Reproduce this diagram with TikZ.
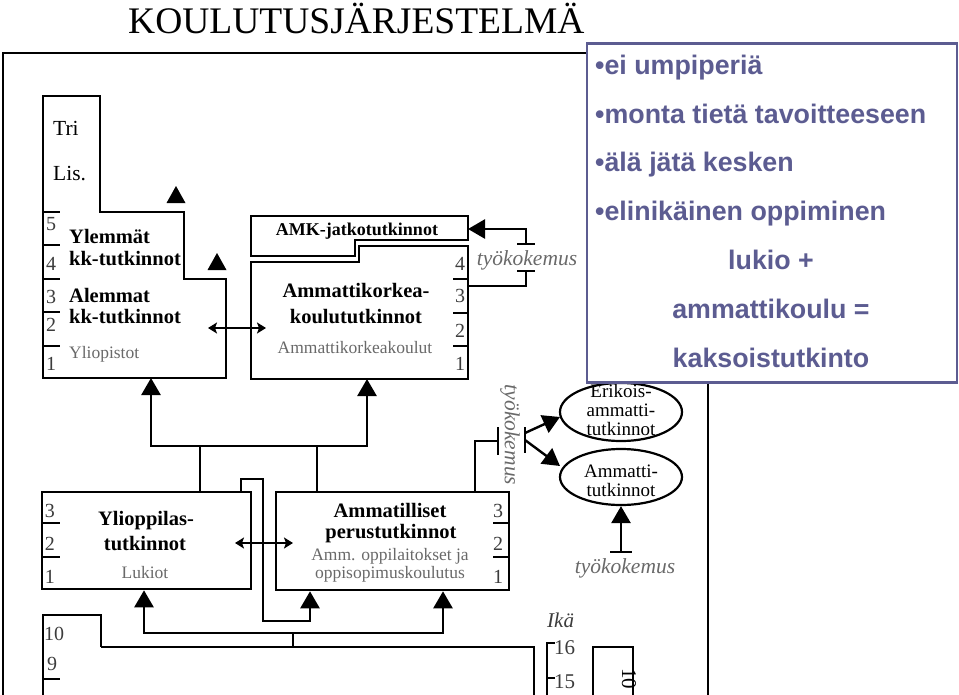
\documentclass[tikz,border=0pt]{standalone}
\usepackage{fontspec}
\setmainfont{Liberation Serif}
\newfontfamily\boxsans{Liberation Sans}
\usetikzlibrary{arrows.meta,shapes.geometric}
\definecolor{frameblue}{RGB}{92,92,145}
\definecolor{gtext}{RGB}{105,105,105}
\definecolor{ntext}{RGB}{60,60,60}
\begin{document}
\begin{tikzpicture}[x=1pt,y=-1pt,
  boxline/.style={line width=2.6pt, line join=miter},
  frameline/.style={line width=2.6pt},
  tickthin/.style={line width=1.4pt},
  tickthick/.style={line width=2.6pt},
  conn/.style={line width=2.6pt},
  triarrow/.style={-{Triangle[length=17pt,width=19pt]}},
  dblarrow/.style={{Stealth[length=9pt,width=11pt,inset=2pt]}-{Stealth[length=9pt,width=11pt,inset=2pt]}, line width=2.2pt},
  bold/.style={font=\fontsize{20.5}{22}\selectfont\bfseries, inner sep=0pt, anchor=base},
  inst/.style={font=\fontsize{17.5}{18}\selectfont, text=gtext, inner sep=0pt, anchor=base},
  num/.style={font=\fontsize{20}{20}\selectfont, text=ntext, inner sep=0pt, anchor=base},
  tyo/.style={font=\fontsize{21.5}{21}\selectfont\itshape, text=gtext, inner sep=0pt, anchor=base},
  ell/.style={font=\fontsize{19}{18}\selectfont, inner sep=0pt, anchor=base},
  bullet/.style={font=\boxsans\bfseries\fontsize{26.8}{27}\selectfont, text=frameblue, inner sep=0pt, anchor=base west},
  cline/.style={font=\boxsans\bfseries\fontsize{26.8}{27}\selectfont, text=frameblue, inner sep=0pt, anchor=base},
]
\useasboundingbox (0,0) rectangle (959,694);
\clip (0,0) rectangle (959,694);

% title
\node[anchor=base west, inner sep=0pt, font=\fontsize{37.5}{40}\selectfont] (title) at (128,33) {KOULUTUSJÄRJESTELMÄ};

% outer frame
\draw[frameline] (3,700) -- (3,53) -- (620,53);
\draw[frameline] (708,370) -- (708,700);

% ---------- university block ----------
\draw[boxline] (43,96) -- (100,96) -- (100,212) -- (184,212) -- (184,279) -- (226,279) -- (226,378) -- (43,378) -- cycle;
\coordinate (uniB) at (151,378);
\coordinate (uniR) at (208,328);
\draw[tickthin] (43,212) -- (60,212);
\draw[tickthick] (43,245) -- (60,245);
\draw[tickthin] (43,279) -- (60,279);
\draw[tickthick] (43,312) -- (60,312);
\draw[tickthin] (43,346) -- (60,346);
\node[num] (u5) at (51,230) {5};
\node[num] (u4) at (51,270) {4};
\node[num] (u3) at (51,303) {3};
\node[num] (u2) at (51,331) {2};
\node[num] (u1) at (51,370) {1};
\node[font=\fontsize{21.5}{20}\selectfont, inner sep=0pt, anchor=base west] (tri) at (53,135) {Tri};
\node[font=\fontsize{21.5}{20}\selectfont, inner sep=0pt, anchor=base west] (lis) at (53,180) {Lis.};
\node[bold, anchor=base west] (ylem1) at (69,243) {Ylemmät};
\node[bold, anchor=base west] (ylem2) at (69,265) {kk-tutkinnot};
\node[bold, anchor=base west] (alem1) at (69,302) {Alemmat};
\node[bold, anchor=base west] (alem2) at (69,323) {kk-tutkinnot};
\node[inst, anchor=base west] (yliop) at (69,358) {Yliopistot};

% free arrowheads
\fill (176,186) -- (185.5,203) -- (166.5,203) -- cycle;
\fill (217,253) -- (226.5,270) -- (207.5,270) -- cycle;

% ---------- AMK ----------
\draw[boxline] (251,216) -- (468,216) -- (468,240) -- (355,240) -- (355,256) -- (251,256) -- cycle;
\draw[boxline] (251,262) -- (359,262) -- (359,246) -- (468,246) -- (468,379) -- (251,379) -- cycle;
\coordinate (jatkoR) at (468,229);
\coordinate (amkR) at (468,286);
\coordinate (amkL) at (266,328);
\coordinate (amkB) at (367,379);
\node[font=\fontsize{18}{18}\selectfont\bfseries, inner sep=0pt, anchor=base] (jatko) at (357,235) {AMK-jatkotutkinnot};
\node[bold] (amk1) at (356,297) {Ammattikorkea-};
\node[bold] (amk2) at (356,323) {koulututkinnot};
\node[inst] (amk3) at (355,353) {Ammattikorkeakoulut};
\draw[tickthin] (453,279) -- (468,279);
\draw[tickthick] (453,313) -- (468,313);
\draw[tickthin] (453,346) -- (468,346);
\node[num] (a4) at (460,270) {4};
\node[num] (a3) at (460,302) {3};
\node[num] (a2) at (460,337) {2};
\node[num] (a1) at (460,370) {1};

% tyokokemus to AMK-jatko
\node[tyo] (tyo1) at (527,265) {työkokemus};
\coordinate (t1top) at (526,244);
\coordinate (t1bot) at (526,271);
\draw[conn] (amkR) -- (526,286) -- (t1bot);
\draw[conn] (517,271) -- (535,271);
\draw[conn] (517,244) -- (535,244);
\draw[conn, triarrow] (t1top) -- (526,229) -- (jatkoR);

\draw[dblarrow] (uniR) -- (amkL);

% ---------- secondary level ----------
\node[draw, line width=2.6pt, minimum width=209pt, minimum height=97pt, inner sep=0pt] (yo) at (146.5,540.5) {};
\node[draw, line width=2.6pt, minimum width=233pt, minimum height=98pt, inner sep=0pt] (amm) at (392.5,541) {};
\draw[tickthin] (43,523) -- (60,523);
\draw[tickthick] (43,557) -- (60,557);
\node[num] (y3) at (50,517) {3};
\node[num] (y2) at (50,550) {2};
\node[num] (y1) at (50,583) {1};
\node[bold] (yo1) at (146,525) {Ylioppilas-};
\node[bold] (yo2) at (145,550) {tutkinnot};
\node[inst] (yo3) at (145,578) {Lukiot};

\draw[tickthin] (493,523) -- (509,523);
\draw[tickthick] (493,557) -- (509,557);
\node[num] (m3) at (498,517) {3};
\node[num] (m2) at (498,550) {2};
\node[num] (m1) at (498,583) {1};
\node[bold] (am1) at (390,517) {Ammatilliset};
\node[bold] (am2) at (391,538) {perustutkinnot};
\node[inst] (am3) at (390,560) {Amm. oppilaitokset ja};
\node[inst] (am4) at (390,578) {oppisopimuskoulutus};

\draw[dblarrow] (235,543) -- (293,543);

% connectors to higher education
\coordinate (split) at (200,446);
\draw[conn, triarrow] (200,446) -- (151,446) -- (uniB);
\draw[conn, triarrow] (200,446) -- (367,446) -- (amkB);
\draw[conn] (yo.north -| 200,0) -- (split);
\draw[conn] (amm.north -| 317,0) -- (317,446);

% crossing wire
\draw[conn, triarrow] (yo.north -| 241,0) -- (241,479) -- (263,479) -- (263,621) -- (310,621) -- (amm.south -| 310,0);

% from basic education
\coordinate (basetop) at (293,647);
\draw[conn] (basetop) -- (293,633);
\draw[conn, triarrow] (293,633) -- (144,633) -- (yo.south -| 144,0);
\draw[conn, triarrow] (293,633) -- (443,633) -- (amm.south -| 443,0);

% ---------- ellipses ----------
\node[draw, ellipse, line width=2.2pt, minimum width=122pt, minimum height=58pt, inner sep=0pt] (erik) at (621,412) {};
\node[draw, ellipse, line width=2.2pt, minimum width=122pt, minimum height=56pt, inner sep=0pt] (ammt) at (621,477) {};
\node[ell] (e1) at (621,397) {Erikois-};
\node[ell] (e2) at (621,416) {ammatti-};
\node[ell] (e3) at (621,435) {tutkinnot};
\node[ell] (m1t) at (621,477) {Ammatti-};
\node[ell] (m2t) at (621,496) {tutkinnot};

\draw[conn] (amm.north -| 475,0) -- (475,441) -- (498,441);
\draw[conn] (498,427) -- (498,455);
\draw[conn] (525,427) -- (525,453);
\node[tyo, anchor=center, rotate=-90] (tyo2) at (510,435) {työkokemus};
\draw[line width=2.4pt, -{Triangle[length=17pt,width=19pt]}] (525,433) -- (560,417);
\draw[line width=2.4pt, -{Triangle[length=17pt,width=19pt]}] (525,440) -- (560,466);

\coordinate (t3base) at (ammt.south |- 0,552);
\draw[conn, triarrow] (t3base) -- (ammt.south);
\draw[conn] (610,552) -- (632,552);
\node[tyo] (tyo3) at (625,573) {työkokemus};

% ---------- basic education ----------
\draw[conn] (43,700) -- (43,615) -- (101,615) -- (101,647);
\draw[line width=2pt] (101,647) -- (534,647) -- (534,700);
\draw[tickthin] (43,679) -- (60,679);
\node[num, anchor=base west] (n10) at (44,640) {10};
\node[num, anchor=base west] (n9) at (47,670) {9};

\node[font=\fontsize{21}{20}\selectfont\itshape, text=ntext, inner sep=0pt, anchor=base west] (ika) at (547,627) {Ikä};
\draw[line width=2pt] (555,643) -- (547,643) -- (547,700);
\draw[line width=2pt] (547,678) -- (555,678);
\node[num, anchor=base west, font=\fontsize{21}{20}\selectfont] (a16) at (554,654) {16};
\node[num, anchor=base west, font=\fontsize{21}{20}\selectfont] (a15) at (554,688) {15};
\draw[line width=2pt] (593,700) -- (593,647) -- (633,647) -- (633,700);
\node[num, rotate=-90, anchor=base west, font=\fontsize{21}{20}\selectfont, text=black] (rot10) at (622,668) {10};

% ---------- blue text box ----------
\node[draw=frameblue, fill=white, line width=2.8pt, minimum width=370pt, minimum height=339pt, inner sep=0pt] (note) at (772,213) {};
\node[bullet] (b1) at (595,74) {•ei umpiperiä};
\node[bullet] (b2) at (595,123) {•monta tietä tavoitteeseen};
\node[bullet] (b3) at (595,171) {•älä jätä kesken};
\node[bullet] (b4) at (595,220) {•elinikäinen oppiminen};
\node[cline] (c1) at (771,269) {lukio +};
\node[cline] (c2) at (771,318) {ammattikoulu =};
\node[cline] (c3) at (771,367) {kaksoistutkinto};
\end{tikzpicture}
\end{document}
